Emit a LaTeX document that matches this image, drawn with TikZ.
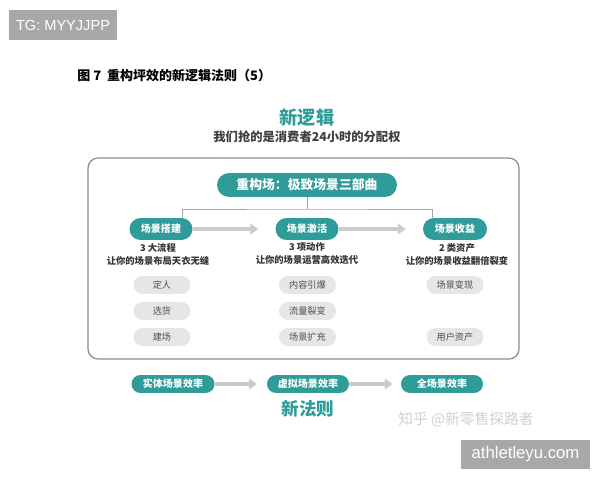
\documentclass[tikz,border=0pt]{standalone}
\usepackage{fontspec}
\setmainfont{Liberation Sans}
\newfontfamily\cjk{Noto Sans CJK SC}
\usetikzlibrary{arrows.meta,calc}
\definecolor{teal}{HTML}{2F9C9A}
\definecolor{pillgray}{HTML}{E6E6E6}
\definecolor{fatgray}{HTML}{CBCBCB}
\definecolor{markgray}{HTML}{A8A8A8}
\tikzset{
  tealbox/.style={rounded corners=11*0.02cm, fill=teal, text=white, font=\cjk\bfseries\fontsize{5.7}{6}\selectfont, inner sep=0pt},
  pill/.style={rounded corners=9*0.02cm, fill=pillgray, text=black!70, font=\cjk\fontsize{5.2}{6}\selectfont, minimum width=1.14cm, minimum height=0.36cm, inner sep=0pt},
  note/.style={align=center, text=black!80, font=\cjk\bfseries\fontsize{5.3}{7.4}\selectfont},
  link/.style={draw=black!35, line width=0.5pt},
  fat/.style={draw=fatgray, line width=2.3pt, -{Triangle[width=6pt,length=4.5pt]}},
  markbox/.style={fill=markgray, text=white, inner sep=0pt}
}
\begin{document}
\begin{tikzpicture}[x=0.02cm, y=-0.02cm]
\useasboundingbox [fill=white] (0,0) rectangle (600,480);
% watermarks
\node (tg) [markbox, minimum width=2.16cm, minimum height=0.6cm] at (63,25) {\fontsize{8.3}{9}\selectfont TG: MYYJJPP};
\node (site) [markbox, minimum width=2.58cm, minimum height=0.58cm] at (525.5,454.5) {\fontsize{9.5}{11}\selectfont athletleyu.com};
% headings
\node (title) [anchor=west, inner sep=0pt, font=\cjk\bfseries\fontsize{7.4}{9}\selectfont] at (77,76) {图 7\ \ 重构坪效的新逻辑法则（5）};
\node (logic) [text=teal, font=\cjk\bfseries\fontsize{10.4}{12}\selectfont] at (307,118) {新逻辑};
\node (claim) [text=black!75, font=\cjk\bfseries\fontsize{7}{8}\selectfont] at (307,137) {我们抢的是消费者24小时的分配权};
% frame
\draw [draw=black!45, line width=0.7pt, rounded corners=0.2cm] (88,158) rectangle (519,359);
% top level
\node (hdr) [tealbox, minimum width=3.6cm, minimum height=0.48cm, rounded corners=12*0.02cm, font=\cjk\bfseries\fontsize{7.3}{8}\selectfont] at (307,185) {重构场：极致场景三部曲};
\node (build) [tealbox, minimum width=1.26cm, minimum height=0.44cm] at (161,229) {场景搭建};
\node (activate) [tealbox, minimum width=1.26cm, minimum height=0.44cm] at (307,229) {场景激活};
\node (harvest) [tealbox, minimum width=1.28cm, minimum height=0.44cm] at (455,229) {场景收益};
\coordinate (fork) at (307,209);
\draw [link] (hdr) -- (fork);
\draw [link] ($(build.north)+(21,0)$) |- (fork) -| ($(harvest.north)+(-23,0)$);
\draw [fat, shorten >=9.6pt] (build) -- (activate);
\draw [fat, shorten >=9.6pt] (activate) -- (harvest);
% notes
\node (buildnote) [note] at (158,254) {3 大流程\\让你的场景布局天衣无缝};
\node (activatenote) [note] at (307,254) {3 项动作\\让你的场景运营高效迭代};
\node (harvestnote) [note] at (457,254) {2 类资产\\让你的场景收益翻倍裂变};
% pills
\node (who) [pill] at (162,285) {定人};
\node (goods) [pill] at (162,311) {选货};
\node (site1) [pill] at (162,337) {建场};
\node (burst) [pill] at (307.5,285) {内容引爆};
\node (split) [pill] at (307.5,311) {流量裂变};
\node (expand) [pill] at (307.5,337) {场景扩充};
\node (cash) [pill] at (455,285) {场景变现};
\node (users) [pill] at (455,337) {用户资产};
% bottom row
\node (real) [tealbox, minimum width=1.66cm, minimum height=0.36cm, rounded corners=9*0.02cm] at (173,384) {实体场景效率};
\node (virtual) [tealbox, minimum width=1.64cm, minimum height=0.36cm, rounded corners=9*0.02cm] at (308,384) {虚拟场景效率};
\node (whole) [tealbox, minimum width=1.64cm, minimum height=0.36cm, rounded corners=9*0.02cm] at (442,384) {全场景效率};
\draw [fat, shorten >=5.5pt] (real) -- (virtual);
\draw [fat, shorten >=4.5pt] (virtual) -- (whole);
\node (rule) [text=teal, font=\cjk\bfseries\fontsize{10}{12}\selectfont] at (308,409) {新法则};
\node (zhihu) [text=black!18, font=\cjk\fontsize{8.4}{9}\selectfont] at (466,420) {知乎 @新零售探路者};
\end{tikzpicture}
\end{document}
